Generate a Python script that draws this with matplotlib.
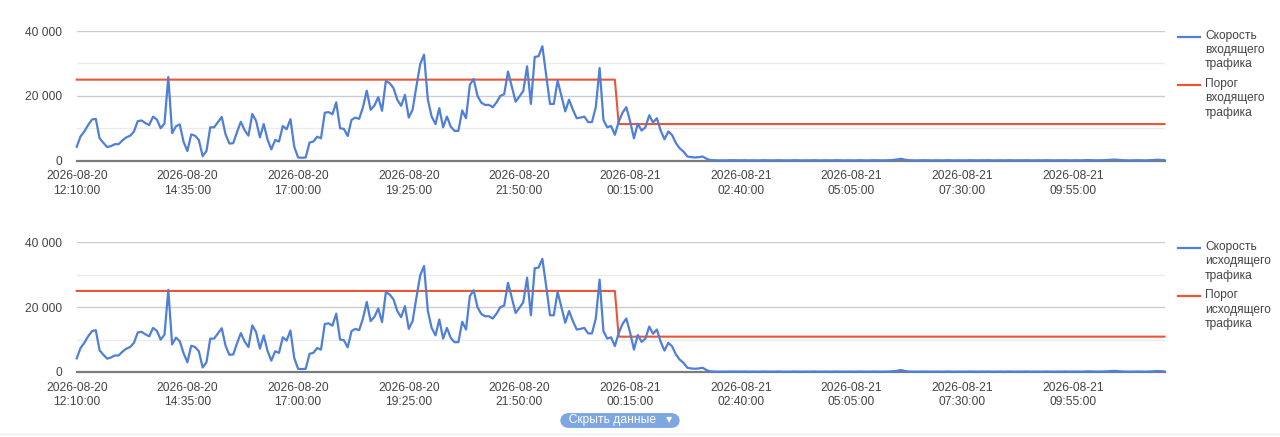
import pandas as pd
import matplotlib
matplotlib.use('Agg')
import matplotlib.pyplot as plt
from matplotlib.lines import Line2D

plt.rcParams['font.family'] = ['Liberation Sans', 'DejaVu Sans']

W, H = 1280, 437
BLUE = '#4f7fd6'
RED = '#ea5535'
TEXT = '#444444'
FS = 8.64  # 12 px at 100 dpi

# 5-minute samples starting at 12:10
start_time = '2026-08-20 12:10'
step = '5min'

traffic_in = [
    4300, 7500, 9000, 11000, 12700, 12900, 6900, 5500, 4200, 4500,
    5100, 5100, 6300, 7200, 7700, 9000, 12200, 12400, 11600, 11000,
    13600, 12700, 10000, 11500, 25800, 8500, 10600, 11200, 5800, 3000,
    8100, 7700, 6400, 1400, 3000, 10300, 10300, 11900, 13500, 8100,
    5300, 5400, 8800, 12000, 9400, 7700, 14400, 12300, 7200, 11300,
    6500, 3500, 6400, 5900, 10700, 9700, 12800, 4300, 1000, 900,
    1000, 5600, 5900, 7400, 6900, 14800, 15000, 14300, 18000, 10000,
    9800, 7600, 12600, 13300, 12900, 16500, 21600, 15700, 17000, 19600,
    15400, 24600, 23900, 22400, 18800, 16900, 20300, 13300, 15700, 22900,
    29800, 32700, 18800, 13600, 11300, 16200, 10300, 13600, 10500, 9200,
    9200, 15500, 13100, 23400, 25200, 20000, 17900, 17200, 17200, 16500,
    18000, 20000, 20500, 27500, 22900, 18200, 19800, 21500, 29100, 17500,
    32000, 32200, 35300, 26500, 17500, 17500, 24700, 20000, 15200, 18800,
    15700, 13100, 13300, 13600, 11900, 11900, 16500, 28600, 12600, 10300,
    10700, 8000, 12000, 14800, 16500, 12100, 6900, 11400, 9300, 10300,
    14000, 11800, 13100, 9300, 6600, 9000, 7900, 5400, 3800, 2800,
    1300, 1100, 1000, 1100, 1300, 600, 200,
    150, 100, 120, 100, 150, 130, 100, 120, 150, 100, 130, 120,
    100, 150, 120, 100, 130, 150, 100, 120, 100, 150, 120, 100,
    130, 100, 150, 120, 100, 130, 120, 100, 150, 120, 100, 130,
    120, 100, 150, 120, 100, 130, 150, 120, 100, 130, 150, 250,
    400, 600, 300, 150, 120, 100, 130, 150, 120, 100, 130, 120,
    100, 150, 120, 100, 130, 120, 100, 150, 120, 100, 130, 120,
    150, 100, 120, 130, 100, 150, 120, 100, 130, 120, 150, 100,
    120, 130, 100, 150, 120, 100, 130, 120, 150, 100, 120, 130,
    100, 150, 200, 150, 120, 130, 150, 200, 300, 350, 250, 150,
    120, 100, 130, 150, 120, 100, 150, 200, 300, 250, 150,
]

traffic_out = [
    4200, 7400, 9000, 11000, 12600, 12900, 6700, 5300, 4100, 4500,
    5100, 5100, 6300, 7200, 7700, 9000, 12200, 12400, 11600, 11000,
    13600, 12700, 10000, 11500, 25300, 8500, 10600, 9500, 5800, 3000,
    8100, 7700, 6400, 1400, 3000, 10300, 10300, 11900, 13500, 8100,
    5300, 5400, 8800, 12000, 9400, 7700, 14400, 12300, 7200, 11300,
    6500, 3500, 6400, 5900, 10700, 9700, 12800, 4300, 1000, 900,
    1000, 5600, 5900, 7400, 6900, 14800, 15000, 14300, 18000, 10000,
    9800, 7600, 12600, 13300, 12900, 16500, 21600, 15700, 17000, 19600,
    15400, 24600, 23900, 22400, 18800, 16900, 20300, 13300, 15700, 22900,
    29800, 32700, 18800, 13600, 11300, 16200, 10300, 13600, 10500, 9200,
    9200, 15500, 13100, 23400, 25200, 20000, 17900, 17200, 17200, 16500,
    18000, 20000, 20500, 27500, 22900, 18200, 19800, 21500, 29100, 17500,
    32000, 32200, 34900, 26500, 17500, 17500, 24700, 20000, 15200, 18800,
    15700, 13100, 13300, 13600, 11900, 11900, 16500, 28500, 12600, 10300,
    10700, 8000, 12000, 14800, 16500, 12100, 6900, 11400, 9300, 10300,
    14000, 11800, 13100, 9300, 6600, 9000, 7900, 5400, 3800, 2800,
    1300, 1100, 1000, 1100, 1300, 600, 200,
    150, 100, 120, 100, 150, 130, 100, 120, 150, 100, 130, 120,
    100, 150, 120, 100, 130, 150, 100, 120, 100, 150, 120, 100,
    130, 100, 150, 120, 100, 130, 120, 100, 150, 120, 100, 130,
    120, 100, 150, 120, 100, 130, 150, 120, 100, 130, 150, 250,
    400, 600, 300, 150, 120, 100, 130, 150, 120, 100, 130, 120,
    100, 150, 120, 100, 130, 120, 100, 150, 120, 100, 130, 120,
    150, 100, 120, 130, 100, 150, 120, 100, 130, 120, 150, 100,
    120, 130, 100, 150, 120, 100, 130, 120, 150, 100, 120, 130,
    100, 150, 200, 150, 120, 130, 150, 200, 300, 350, 250, 150,
    120, 100, 130, 150, 120, 100, 150, 200, 300, 250, 150,
]

# threshold is a step: high until 23:55, lower from 00:00
threshold_times = ['2026-08-20 12:10', '2026-08-20 23:55',
                   '2026-08-21 00:00', '2026-08-21 11:55']
threshold_in = [25000, 25000, 11300, 11300]
threshold_out = [25000, 25000, 10900, 10900]

y_major = [0, 20000, 40000]
y_major_labels = ['0', '20 000', '40 000']
y_minor = [10000, 30000]

legend_in = ['Скорость\nвходящего\nтрафика', 'Порог\nвходящего\nтрафика']
legend_out = ['Скорость\nисходящего\nтрафика', 'Порог\nисходящего\nтрафика']

times = pd.date_range(start_time, periods=len(traffic_in), freq=step)
tick_times = times[::29]
tick_labels = [t.strftime('%Y-%m-%d\n%H:%M:%S') for t in tick_times]

fig = plt.figure(figsize=(W / 100, H / 100), dpi=100)


def fx(px):
    return px / W


def fy(py):
    return 1 - py / H


def draw_panel(top_px, values, thr_values, labels):
    left, right, zero_px = 76.7, 1164.5, top_px + 129.7
    ax = fig.add_axes([fx(left), fy(zero_px), (right - left) / W, 129.7 / H])

    for v in y_minor:
        ax.axhline(v, color='#ebebeb', lw=1, zorder=0)
    for v in y_major[1:]:
        ax.axhline(v, color='#cccccc', lw=1, zorder=0)
    ax.axhline(0, color='#7a7a7a', lw=1.6, zorder=1, clip_on=False)

    ax.plot(pd.to_datetime(threshold_times), thr_values, color=RED, lw=1.5,
            zorder=2, clip_on=False)
    ax.plot(times, values, color=BLUE, lw=1.6, zorder=3, clip_on=False,
            solid_joinstyle='round')

    ax.set_xlim(times[0], times[-1])
    ax.set_ylim(0, 40000)
    for s in ax.spines.values():
        s.set_visible(False)
    ax.set_yticks(y_major)
    ax.set_yticklabels(y_major_labels)
    ax.set_xticks(tick_times)
    ax.set_xticklabels(tick_labels, linespacing=1.3)
    ax.tick_params(axis='y', length=0, pad=10.5, labelsize=FS, labelcolor=TEXT)
    ax.tick_params(axis='x', length=0, pad=7, labelsize=FS, labelcolor=TEXT)
    ax.set_facecolor('none')

    # legend on the right
    for k, (label, color) in enumerate(zip(labels, [BLUE, RED])):
        ly = top_px + 5.5 + k * 48.5
        fig.add_artist(Line2D([fx(1178), fx(1200)], [fy(ly), fy(ly)],
                              color=color, lw=1.6))
        fig.text(fx(1205), fy(ly - 7), label, ha='left', va='top',
                 fontsize=FS, color=TEXT, linespacing=1.27)
    return ax


draw_panel(31.0, traffic_in, threshold_in, legend_in)
draw_panel(242.3, traffic_out, threshold_out, legend_out)

# "hide data" button
fig.text(fx(620), fy(420.5), '  Скрыть данные   ▾  ', ha='center', va='center',
         fontsize=FS, color='white',
         bbox=dict(boxstyle='round,pad=0.12,rounding_size=0.75',
                   facecolor='#7ea6e0', edgecolor='none'))
fig.add_artist(Line2D([0, 1], [fy(434), fy(434)], color='#eeeeee', lw=1))

fig.savefig('out.png', dpi=100, facecolor='white')
